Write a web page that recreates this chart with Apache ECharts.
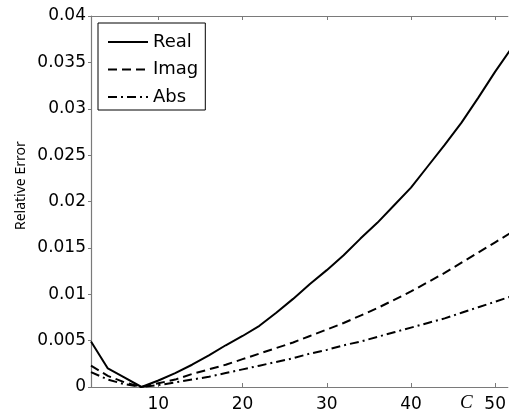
<!DOCTYPE html>
<html><head><meta charset="utf-8">
<script src="https://cdn.jsdelivr.net/npm/echarts@6/dist/echarts.min.js"></script>
<style>html,body{margin:0;padding:0;background:#fff}#c{width:509px;height:413px}</style>
</head><body><div id="c"></div>
<script>
const cValues = [2,4,6,8,10,12,14,16,18,20,22,24,26,28,30,32,34,36,38,40,42,44,46,48,50,52];
const realErr = [0.0049,0.0020,0.0010,0.0000,0.0007,0.0015,0.0024,0.0034,0.0045,0.0055,0.0066,0.0080,0.0095,0.0111,0.0126,0.0142,0.0160,0.0177,0.0196,0.0215,0.0238,0.0261,0.0285,0.0312,0.0340,0.0366];
const imagErr = [0.0023,0.0012,0.0005,0.0000,0.0004,0.0008,0.0014,0.0019,0.0024,0.0030,0.0036,0.0042,0.0048,0.0055,0.0062,0.0069,0.0077,0.0085,0.0094,0.0103,0.0113,0.0123,0.0134,0.0145,0.0156,0.0167];
const absErr  = [0.0016,0.0008,0.0003,0.0000,0.0002,0.0005,0.0008,0.0011,0.0015,0.0019,0.0023,0.0027,0.0031,0.0036,0.0040,0.0045,0.0049,0.0054,0.0059,0.0064,0.0069,0.0074,0.0080,0.0086,0.0092,0.0098];
const xTicks = [10,20,30,40,50];
const seriesNames = ['Real','Imag','Abs'];

const pairs = arr => cValues.map((x,i)=>[x,arr[i]]);
const chart = echarts.init(document.getElementById('c'), null, {renderer:'canvas'});
const axisGray = '#7a7a7a';
const font = 'DejaVu Sans';
chart.setOption({
  animation:false,
  backgroundColor:'#fff',
  grid:{left:91,right:0,top:16,bottom:26,containLabel:false},
  legend:{
    orient:'vertical', left:98, top:23,
    padding:[10,7,4,9],
    itemWidth:40, itemHeight:18, itemGap:9.5,
    borderColor:'#000', borderWidth:1, backgroundColor:'#fff',
    itemStyle:{opacity:0, borderWidth:0},
    textStyle:{fontFamily:font,fontSize:18,color:'#000'},
    data:seriesNames
  },
  xAxis:[{
    type:'value', min:2, max:51.5, position:'bottom',
    axisLine:{show:true,lineStyle:{color:axisGray,width:1.2}},
    axisTick:{show:true,inside:true,length:4,customValues:xTicks,lineStyle:{color:axisGray}},
    axisLabel:{customValues:xTicks,fontFamily:font,fontSize:17,color:'#000',margin:9},
    splitLine:{show:false}
  },{
    type:'value', min:2, max:51.5, position:'top',
    axisLine:{show:true,onZero:false,lineStyle:{color:axisGray,width:1.2}},
    axisTick:{show:true,inside:true,length:4,customValues:xTicks,lineStyle:{color:axisGray}},
    axisLabel:{show:false},
    splitLine:{show:false}
  }],
  yAxis:{
    type:'value', min:0, max:0.04, interval:0.005,
    axisLine:{show:true,lineStyle:{color:axisGray,width:1.2}},
    axisTick:{show:true,inside:false,length:3,lineStyle:{color:axisGray}},
    axisLabel:{fontFamily:font,fontSize:17,color:'#000',margin:5},
    splitLine:{show:false}
  },
  graphic:[
    {type:'text',left:460,top:393,style:{text:'C',font:'italic 19px "Liberation Serif"',fill:'#000'}},
    {type:'text',rotation:Math.PI/2,x:14,y:230,style:{text:'Relative Error',font:'14px "Noto Sans"',fill:'#000',textAlign:'left',textVerticalAlign:'top'}}
  ],
  series:[
    {name:seriesNames[0],type:'line',xAxisIndex:0,data:pairs(realErr),symbol:'none',
     lineStyle:{color:'#000',width:2,type:'solid'},itemStyle:{color:'#000'}},
    {name:seriesNames[1],type:'line',xAxisIndex:0,data:pairs(imagErr),symbol:'none',
     lineStyle:{color:'#000',width:2,type:[9,5]},itemStyle:{color:'#000'}},
    {name:seriesNames[2],type:'line',xAxisIndex:0,data:pairs(absErr),symbol:'none',
     lineStyle:{color:'#000',width:2,type:[9,4,2,4]},itemStyle:{color:'#000'}}
  ]
});
</script></body></html>
